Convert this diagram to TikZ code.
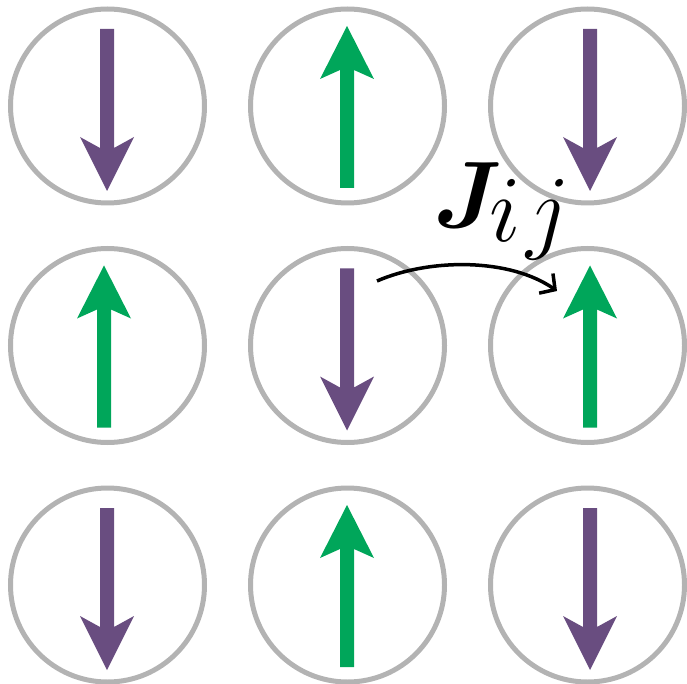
\RequirePackage{fix-cm}
\documentclass[tikz,border=0pt]{standalone}
\usepackage{bm}
\usetikzlibrary{arrows.meta}
\definecolor{spinup}{HTML}{00A65A}
\definecolor{spindown}{HTML}{694D80}
\definecolor{sitegray}{HTML}{B3B3B3}

% spin arrows, drawn as filled outlines around (x,y)
\newcommand\downspin[2]{%
  \fill[spindown,shift={(#1,#2)}] (-7,-77) -- (7,-77) -- (7,42) -- (27,31)
    -- (0,85) -- (-27,31) -- (-7,42) -- cycle;}
\newcommand\upspin[2]{%
  \fill[spinup,shift={(#1,#2)}] (-7,82) -- (7,82) -- (7,-36) -- (27,-27)
    -- (0,-80) -- (-27,-27) -- (-7,-36) -- cycle;}

\begin{document}
\begin{tikzpicture}[x=1pt,y=-1pt,
  site/.style={circle,draw=sitegray,line width=5pt,minimum size=194pt,inner sep=0pt},
  coupling/.style={line width=3.5pt,-{Straight Barb[length=11pt,width=24pt,line width=3.5pt]}}]
\useasboundingbox (0,0) rectangle (687,684);

% lattice sites
\node[site] (s11) at (107.5,106) {};
\node[site] (s12) at (347.5,106) {};
\node[site] (s13) at (587.5,106) {};
\node[site] (s21) at (107.5,345.5) {};
\node[site] (s22) at (347.5,345.5) {};
\node[site] (s23) at (587.5,345.5) {};
\node[site] (s31) at (107.5,585) {};
\node[site] (s32) at (347.5,585) {};
\node[site] (s33) at (587.5,585) {};

% spins
\downspin{107}{106}
\upspin{347}{106}
\downspin{590}{106}
\upspin{104}{345.5}
\downspin{347}{345.5}
\upspin{590}{345.5}
\downspin{107}{585}
\upspin{347}{585}
\downspin{590}{585}

% coupling between neighbouring spins
\coordinate (jfrom) at (377,281);
\coordinate (jto) at (557,291);
\draw[coupling] (jfrom) .. controls (430,258) and (510,258) .. (jto);
\node[anchor=base west,inner sep=0pt,scale=1.5,font=\fontsize{63}{70}\selectfont] (jlabel) at (433,228)
  {$\bm{J}\mkern-2.5mu\raisebox{-9.3pt}{$i\mkern1mu j$}$};
\end{tikzpicture}
\end{document}
